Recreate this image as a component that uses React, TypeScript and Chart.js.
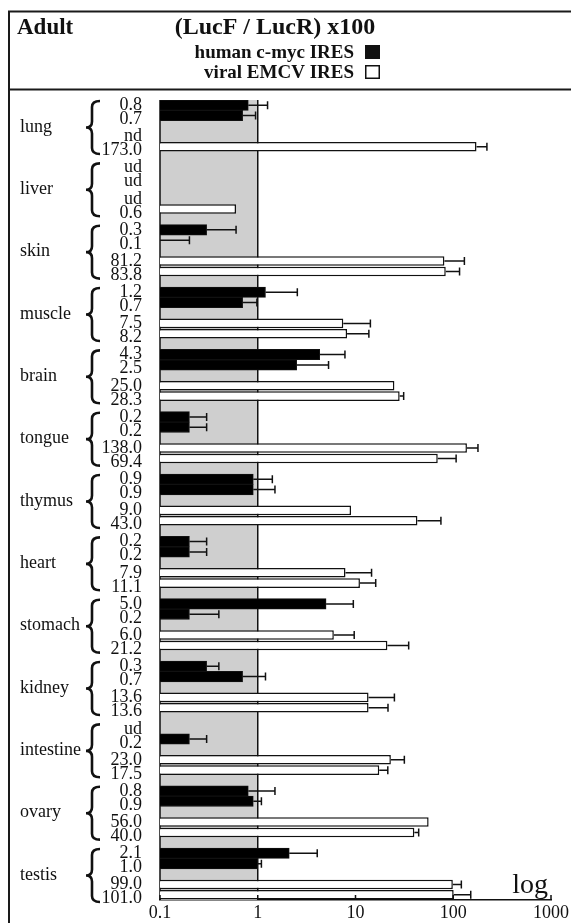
import React, { useEffect, useRef } from 'react';
import { Chart, registerables } from 'chart.js';

Chart.register(...registerables);

// ---------------- data ----------------
const tissues = ['lung', 'liver', 'skin', 'muscle', 'brain', 'tongue', 'thymus', 'heart', 'stomach', 'kidney', 'intestine', 'ovary', 'testis'];

// human c-myc IRES (two measurements), null = nd / ud
const humanRep1 = [0.8, null, 0.3, 1.2, 4.3, 0.2, 0.9, 0.2, 5.0, 0.3, null, 0.8, 2.1];
const humanRep2 = [0.7, null, 0.1, 0.7, 2.5, 0.2, 0.9, 0.2, 0.2, 0.7, 0.2, 0.9, 1.0];
// viral EMCV IRES (two measurements)
const viralRep1 = [null, null, 81.2, 7.5, 25.0, 138.0, 9.0, 7.9, 6.0, 13.6, 23.0, 56.0, 99.0];
const viralRep2 = [173.0, 0.6, 83.8, 8.2, 28.3, 69.4, 43.0, 11.1, 21.2, 13.6, 17.5, 40.0, 101.0];

// printed value labels
const humanRep1Labels = ['0.8', 'ud', '0.3', '1.2', '4.3', '0.2', '0.9', '0.2', '5.0', '0.3', 'ud', '0.8', '2.1'];
const humanRep2Labels = ['0.7', 'ud', '0.1', '0.7', '2.5', '0.2', '0.9', '0.2', '0.2', '0.7', '0.2', '0.9', '1.0'];
const viralRep1Labels = ['nd', 'ud', '81.2', '7.5', '25.0', '138.0', '9.0', '7.9', '6.0', '13.6', '23.0', '56.0', '99.0'];
const viralRep2Labels = ['173.0', '0.6', '83.8', '8.2', '28.3', '69.4', '43.0', '11.1', '21.2', '13.6', '17.5', '40.0', '101.0'];

// upper end of error bars (estimated), null = none
const humanRep1Err = [1.26, null, 0.6, 2.54, 7.8, 0.3, 1.41, 0.3, 9.5, 0.4, null, 1.5, 4.06];
const humanRep2Err = [0.95, null, 0.2, 0.98, 5.3, 0.3, 1.5, 0.3, 0.4, 1.2, 0.3, 1.09, 1.09];
const viralRep1Err = [null, null, 130, 14.2, null, 179, null, 14.6, 9.7, 25.0, 31.6, null, 121];
const viralRep2Err = [221, null, 116, 13.7, 31.1, 107, 74.8, 16.1, 35, 21.5, 21.4, 44.3, 151];

const xTickValues = [0.1, 1, 10, 100, 1000];
const xTickLabels = ['0.1', '1', '10', '100', '1000'];
const shadedRange = [0.1, 1];

const titleText = '(LucF / LucR) x100';
const panelText = 'Adult';
const humanLegend = 'human c-myc IRES';
const viralLegend = 'viral EMCV IRES';
const scaleNote = 'log';

// ---------------- slot building ----------------
const SLOTS_PER_TISSUE = 6;
const slotKeys: string[] = [];
const humanSlots: (number | null)[] = [];
const viralSlots: (number | null)[] = [];
const humanErrSlots: (number | null)[] = [];
const viralErrSlots: (number | null)[] = [];
tissues.forEach((t, i) => {
  slotKeys.push(t + ' h1', t + ' h2', t + ' gap', t + ' v1', t + ' v2');
  humanSlots.push(humanRep1[i], humanRep2[i], null, null, null);
  viralSlots.push(null, null, null, viralRep1[i], viralRep2[i]);
  humanErrSlots.push(humanRep1Err[i], humanRep2Err[i], null, null, null);
  viralErrSlots.push(null, null, null, viralRep1Err[i], viralRep2Err[i]);
  if (i < tissues.length - 1) {
    slotKeys.push(t + ' sep');
    humanSlots.push(null);
    viralSlots.push(null);
    humanErrSlots.push(null);
    viralErrSlots.push(null);
  }
});

const SERIF = '"Liberation Serif", "Times New Roman", serif';
const INK = '#111';

function drawBrace(ctx: CanvasRenderingContext2D, xs: number, yTop: number, yBot: number) {
  const yMid = (yTop + yBot) / 2;
  const xe = xs + 8;
  const xt = xs - 6;
  ctx.beginPath();
  ctx.moveTo(xe, yTop);
  ctx.quadraticCurveTo(xs, yTop, xs, yTop + 6);
  ctx.lineTo(xs, yMid - 6);
  ctx.quadraticCurveTo(xs, yMid, xt, yMid);
  ctx.quadraticCurveTo(xs, yMid, xs, yMid + 6);
  ctx.lineTo(xs, yBot - 6);
  ctx.quadraticCurveTo(xs, yBot, xe, yBot);
  ctx.stroke();
}

const decorPlugin = {
  id: 'decor',
  beforeDatasetsDraw(chart: any) {
    const ctx = chart.ctx as CanvasRenderingContext2D;
    const xs = chart.scales.x;
    const { top, bottom } = chart.chartArea;
    const x0 = xs.getPixelForValue(shadedRange[0]);
    const x1 = xs.getPixelForValue(shadedRange[1]);
    ctx.save();
    ctx.fillStyle = '#cfcfcf';
    ctx.fillRect(x0, top, x1 - x0, bottom - top);
    ctx.strokeStyle = INK;
    ctx.lineWidth = 1.5;
    ctx.beginPath();
    ctx.moveTo(x0, top);
    ctx.lineTo(x0, bottom);
    ctx.moveTo(x1, top);
    ctx.lineTo(x1, bottom);
    ctx.stroke();
    ctx.restore();
  },
  afterDatasetsDraw(chart: any) {
    const ctx = chart.ctx as CanvasRenderingContext2D;
    const xs = chart.scales.x;
    const errSets = [humanErrSlots, viralErrSlots];
    ctx.save();
    ctx.strokeStyle = INK;
    ctx.lineWidth = 1.5;
    errSets.forEach((errs, d) => {
      const meta = chart.getDatasetMeta(d);
      meta.data.forEach((bar: any, j: number) => {
        const e = errs[j];
        if (e == null) return;
        const p = bar.getProps(['x', 'y'], true);
        const xe = xs.getPixelForValue(e);
        ctx.beginPath();
        ctx.moveTo(p.x, p.y);
        ctx.lineTo(xe, p.y);
        ctx.moveTo(xe, p.y - 4);
        ctx.lineTo(xe, p.y + 4);
        ctx.stroke();
      });
    });
    ctx.restore();
  },
  afterDraw(chart: any) {
    const ctx = chart.ctx as CanvasRenderingContext2D;
    const xs = chart.scales.x;
    const ys = chart.scales.y;
    const { top, bottom, right } = chart.chartArea;
    const W = chart.width;
    const H = chart.height;
    ctx.save();

    // frame
    ctx.strokeStyle = '#1a1a1a';
    ctx.lineWidth = 2;
    ctx.beginPath();
    ctx.moveTo(9, H);
    ctx.lineTo(9, 11.5);
    ctx.lineTo(W, 11.5);
    ctx.moveTo(9, 89.5);
    ctx.lineTo(W, 89.5);
    ctx.stroke();

    // header
    ctx.fillStyle = INK;
    ctx.textBaseline = 'alphabetic';
    ctx.textAlign = 'left';
    ctx.font = `bold 23px ${SERIF}`;
    ctx.fillText(panelText, 17, 34);
    ctx.textAlign = 'center';
    ctx.font = `bold 24px ${SERIF}`;
    ctx.fillText(titleText, 275, 34);
    ctx.textAlign = 'right';
    ctx.font = `bold 19px ${SERIF}`;
    ctx.fillText(humanLegend, 354, 58);
    ctx.fillText(viralLegend, 354, 78);
    ctx.fillRect(365, 45, 15, 14);
    ctx.lineWidth = 1.5;
    ctx.strokeStyle = INK;
    ctx.fillStyle = '#fff';
    ctx.fillRect(365.75, 65.75, 13.5, 12.5);
    ctx.strokeRect(365.75, 65.75, 13.5, 12.5);

    // left annotations
    const slotH = ys.getPixelForValue(1) - ys.getPixelForValue(0);
    ctx.fillStyle = INK;
    tissues.forEach((t, i) => {
      const b = i * SLOTS_PER_TISSUE;
      const yb1 = ys.getPixelForValue(b);
      const yb2 = ys.getPixelForValue(b + 1);
      const yw1 = ys.getPixelForValue(b + 3);
      const yw2 = ys.getPixelForValue(b + 4);
      const gTop = yb1 - slotH / 2;
      const gBot = yw2 + slotH / 2;

      // tissue name
      ctx.textAlign = 'left';
      ctx.textBaseline = 'middle';
      ctx.font = `18px ${SERIF}`;
      ctx.fillText(t, 20, (gTop + gBot) / 2 + 1);

      // value labels
      ctx.textAlign = 'right';
      ctx.font = `18px ${SERIF}`;
      const cB = (yb1 + yb2) / 2 + 2;
      const cW = (yw1 + yw2) / 2 + 2;
      ctx.fillText(humanRep1Labels[i], 142, cB - 7);
      ctx.fillText(humanRep2Labels[i], 142, cB + 7);
      ctx.fillText(viralRep1Labels[i], 142, cW - 7);
      ctx.fillText(viralRep2Labels[i], 142, cW + 7);

      // brace
      ctx.strokeStyle = INK;
      ctx.lineWidth = 2.6;
      drawBrace(ctx, 92, gTop + 1, gBot + 2);
    });

    // inward ticks on x axis
    ctx.strokeStyle = INK;
    ctx.lineWidth = 1.5;
    ctx.beginPath();
    xTickValues.forEach((v) => {
      const px = xs.getPixelForValue(v);
      ctx.moveTo(px, bottom);
      ctx.lineTo(px, bottom - 5);
    });
    ctx.stroke();

    // "log" note
    ctx.fillStyle = INK;
    ctx.textAlign = 'right';
    ctx.textBaseline = 'alphabetic';
    ctx.font = `28px ${SERIF}`;
    ctx.fillText(scaleNote, right - 3, bottom - 7);

    ctx.restore();
  },
};

export default function App() {
  const canvasRef = useRef<HTMLCanvasElement | null>(null);

  useEffect(() => {
    const canvas = canvasRef.current;
    if (!canvas) return;
    const chart = new Chart(canvas, {
      type: 'bar',
      data: {
        labels: slotKeys,
        datasets: [
          {
            label: humanLegend,
            data: humanSlots as any,
            backgroundColor: '#000',
            borderColor: INK,
            borderWidth: 1,
            barPercentage: 1,
            categoryPercentage: 1,
            grouped: false,
          } as any,
          {
            label: viralLegend,
            data: viralSlots as any,
            backgroundColor: '#fff',
            borderColor: INK,
            borderWidth: 1.5,
            barPercentage: 0.92,
            categoryPercentage: 1,
            grouped: false,
          } as any,
        ],
      },
      options: {
        indexAxis: 'y',
        animation: false,
        responsive: false,
        devicePixelRatio: 1,
        layout: { padding: { left: 160, right: 20, top: 100, bottom: 0 } },
        plugins: {
          legend: { display: false },
          tooltip: { enabled: false },
          title: { display: false },
        },
        scales: {
          y: {
            type: 'category',
            display: false,
            offset: true,
            grid: { display: false },
          },
          x: {
            type: 'logarithmic',
            min: 0.1,
            max: 1000,
            grid: { display: false, drawTicks: false },
            border: { display: true, color: INK, width: 1.5 },
            afterBuildTicks: (scale: any) => {
              scale.ticks = xTickValues.map((v) => ({ value: v }));
            },
            afterFit: (scale: any) => {
              scale.height = 23;
            },
            ticks: {
              autoSkip: false,
              maxRotation: 0,
              padding: 2,
              color: INK,
              font: { family: SERIF, size: 18 },
              callback: (value: any) => {
                const idx = xTickValues.indexOf(Number(value));
                return idx >= 0 ? xTickLabels[idx] : '';
              },
            },
          },
        },
      },
      plugins: [decorPlugin],
    });
    return () => chart.destroy();
  }, []);

  return (
    <div style={{ position: 'absolute', left: 0, top: 0, width: 571, height: 923, background: '#fff' }}>
      <canvas ref={canvasRef} width={571} height={923} style={{ display: 'block' }} />
    </div>
  );
}
